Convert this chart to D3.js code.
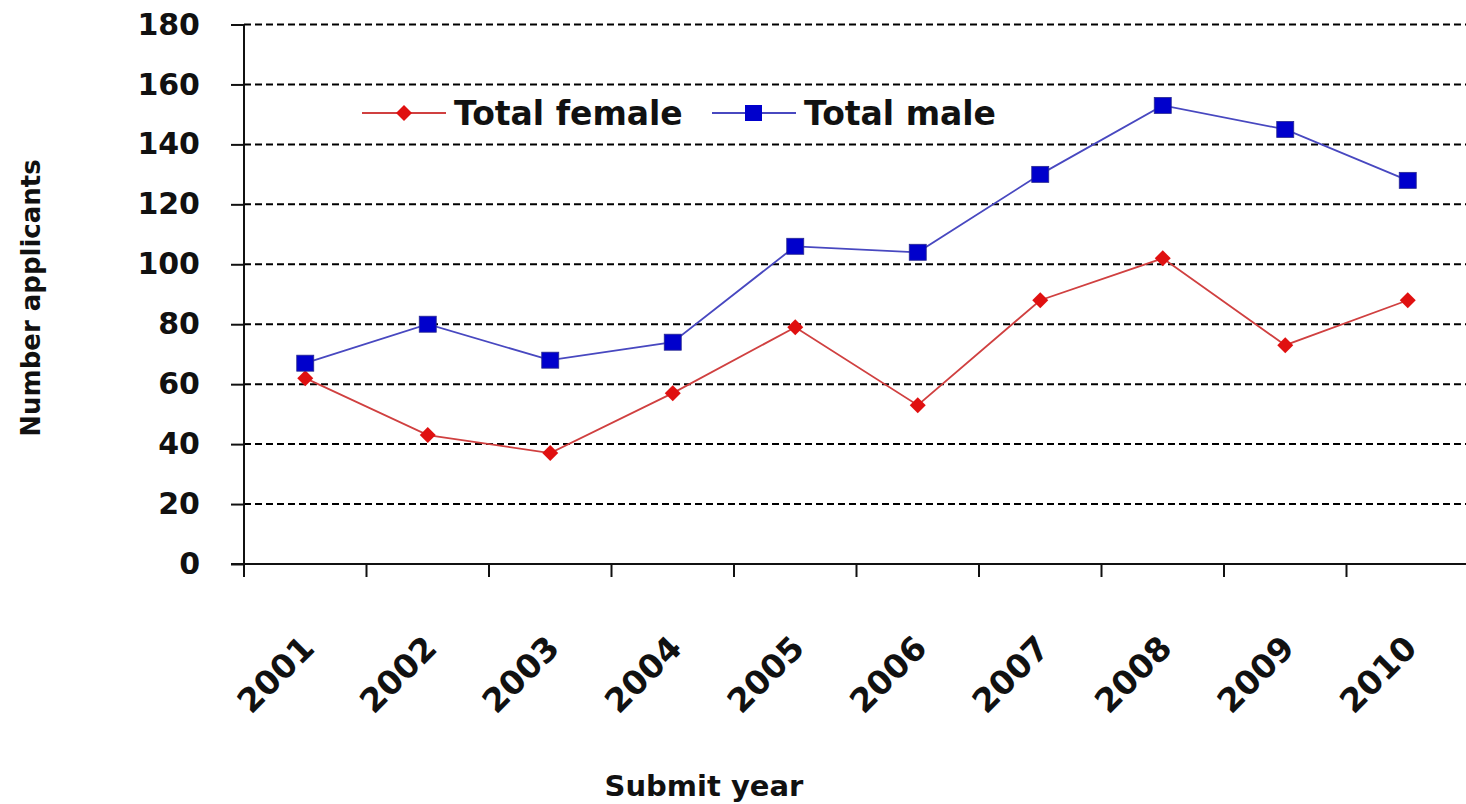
<!DOCTYPE html>
<html>
<head>
<meta charset="utf-8">
<script src="https://cdn.jsdelivr.net/npm/d3@7"></script>
<style>
  html, body { margin: 0; padding: 0; background: #fff; }
  svg { display: block; }
  text { font-family: "DejaVu Sans", Verdana, sans-serif; fill: #111; }
</style>
</head>
<body>
<svg id="chart" width="1466" height="804"></svg>
<script>
// Applicants per submit year
const years = ["2001", "2002", "2003", "2004", "2005", "2006", "2007", "2008", "2009", "2010"];
const totalFemale = [62, 43, 37, 57, 79, 53, 88, 102, 73, 88];
const totalMale = [67, 80, 68, 74, 106, 104, 130, 153, 145, 128];
const yTicks = [0, 20, 40, 60, 80, 100, 120, 140, 160, 180];
const seriesNames = ["Total female", "Total male"];

const svg = d3.select("#chart");
const plot = { left: 244, right: 1469, top: 24.5, bottom: 564 };

const x = d3.scaleBand().domain(years).range([plot.left, plot.right]).paddingInner(0).paddingOuter(0);
const y = d3.scaleLinear().domain([0, 180]).range([plot.bottom, plot.top]);
const cx = d => x(d) + x.bandwidth() / 2;

// dashed horizontal gridlines
svg.append("g")
  .selectAll("line")
  .data(yTicks.filter(v => v > 0))
  .join("line")
  .attr("x1", plot.left).attr("x2", plot.right)
  .attr("y1", d => y(d)).attr("y2", d => y(d))
  .attr("stroke", "#000").attr("stroke-width", 2)
  .attr("stroke-dasharray", "7,4");

// y axis
const yAxis = svg.append("g")
  .attr("transform", `translate(${plot.left},0)`)
  .call(d3.axisLeft(y).tickValues(yTicks).tickSize(13).tickPadding(31));
yAxis.select(".domain").attr("stroke", "#111").attr("stroke-width", 2)
  .attr("d", `M0,${plot.top}V${plot.bottom + 13}`);
yAxis.selectAll(".tick line").attr("stroke", "#111").attr("stroke-width", 2);
yAxis.selectAll(".tick text")
  .attr("font-size", 30).attr("font-weight", "bold")
  .attr("font-family", "DejaVu Sans").attr("fill", "#111");

// x axis line and category boundary ticks
const xg = svg.append("g");
xg.append("line")
  .attr("x1", plot.left - 13).attr("x2", plot.right)
  .attr("y1", plot.bottom).attr("y2", plot.bottom)
  .attr("stroke", "#111").attr("stroke-width", 2);
xg.selectAll("line.tk")
  .data(years.slice(1))
  .join("line").attr("class", "tk")
  .attr("x1", d => x(d)).attr("x2", d => x(d))
  .attr("y1", plot.bottom).attr("y2", plot.bottom + 13)
  .attr("stroke", "#111").attr("stroke-width", 2);
xg.selectAll("text")
  .data(years)
  .join("text")
  .attr("transform", d => `translate(${cx(d) + 11},${plot.bottom + 86}) rotate(-45)`)
  .attr("text-anchor", "end")
  .attr("font-size", 33).attr("font-weight", "bold")
  .text(d => d);

// axis titles
svg.append("text")
  .attr("x", 704).attr("y", 796)
  .attr("text-anchor", "middle")
  .attr("font-size", 29).attr("font-weight", "bold")
  .text("Submit year");
svg.append("text")
  .attr("transform", "translate(40,298) rotate(-90)")
  .attr("text-anchor", "middle")
  .attr("font-size", 26).attr("font-weight", "bold")
  .text("Number applicants");

// series lines
const femaleColor = "#e01010", femaleLine = "#d04040";
const maleColor = "#0000cc", maleLine = "#4848c0";

const line = d3.line().x(d => cx(d.year)).y(d => y(d.value));
const femaleData = years.map((yr, i) => ({ year: yr, value: totalFemale[i] }));
const maleData = years.map((yr, i) => ({ year: yr, value: totalMale[i] }));

svg.append("path").datum(femaleData)
  .attr("d", line).attr("fill", "none")
  .attr("stroke", femaleLine).attr("stroke-width", 1.8);
svg.append("path").datum(maleData)
  .attr("d", line).attr("fill", "none")
  .attr("stroke", maleLine).attr("stroke-width", 1.8);

const diamond = (px, py, r) => `M${px},${py - r}L${px + r},${py}L${px},${py + r}L${px - r},${py}Z`;

svg.append("g").selectAll("path")
  .data(femaleData).join("path")
  .attr("d", d => diamond(cx(d.year), y(d.value), 8))
  .attr("fill", femaleColor);
svg.append("g").selectAll("rect")
  .data(maleData).join("rect")
  .attr("x", d => cx(d.year) - 8.5).attr("y", d => y(d.value) - 8)
  .attr("width", 17).attr("height", 16)
  .attr("fill", maleColor).attr("stroke", "#2a2a90").attr("stroke-width", 0.8);

// legend
const legend = svg.append("g");
const legendItems = [
  { name: seriesNames[0], x0: 362, color: femaleColor, lineColor: femaleLine, shape: "diamond" },
  { name: seriesNames[1], x0: 712, color: maleColor, lineColor: maleLine, shape: "square" }
];
const ly = 113;
legendItems.forEach(it => {
  legend.append("line")
    .attr("x1", it.x0).attr("x2", it.x0 + 84)
    .attr("y1", ly).attr("y2", ly)
    .attr("stroke", it.lineColor).attr("stroke-width", 1.8);
  if (it.shape === "diamond") {
    legend.append("path").attr("d", diamond(it.x0 + 42, ly, 8)).attr("fill", it.color);
  } else {
    legend.append("rect")
      .attr("x", it.x0 + 33).attr("y", ly - 8).attr("width", 17).attr("height", 16)
      .attr("fill", it.color);
  }
  legend.append("text")
    .attr("x", it.x0 + 92).attr("y", ly + 12)
    .attr("font-size", 33).attr("font-weight", "bold")
    .text(it.name);
});
</script>
</body>
</html>
